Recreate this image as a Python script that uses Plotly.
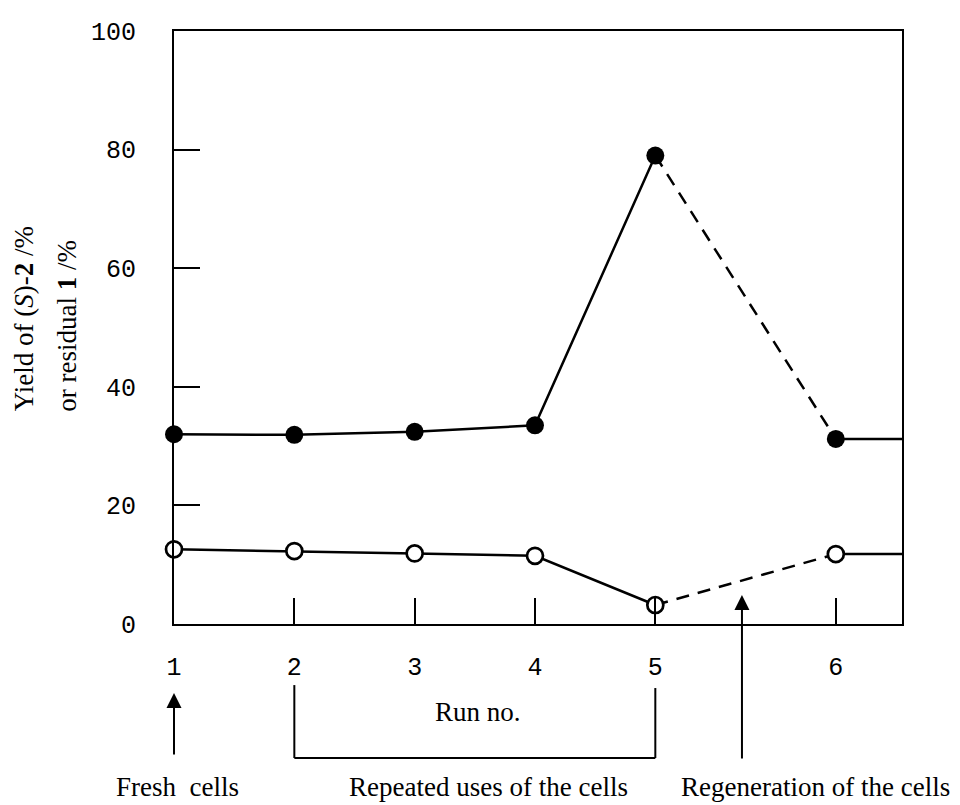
import plotly.graph_objects as go

# ---- data ----
run_labels = ["1", "2", "3", "4", "5", "6"]
run_pos = [1, 2, 3, 4, 5, 6.5]          # run 6 drawn after the regeneration gap
yield_S2 = [32.0, 31.9, 32.4, 33.5, 79.0, 31.2]      # filled circles
residual_1 = [12.6, 12.3, 11.9, 11.5, 3.2, 11.8]     # open circles
y_tick_vals = [0, 20, 40, 60, 80, 100]

X_RANGE = [1, 7.05]
Y_RANGE = [0, 100]
REGEN_X = 5.72

SERIF = "Liberation Serif, Times New Roman, serif"
MONO = "Liberation Mono, Courier New, monospace"
LW = 2.5

fig = go.Figure()


def add_series(vals, filled):
    line = dict(color="black", width=LW)
    # solid part: runs 1-5
    fig.add_trace(go.Scatter(x=run_pos[:5], y=vals[:5], mode="lines",
                             line=line, showlegend=False, hoverinfo="skip"))
    # dashed part: run 5 -> run 6 (after regeneration)
    fig.add_trace(go.Scatter(x=run_pos[4:6], y=vals[4:6], mode="lines",
                             line=dict(color="black", width=LW, dash="13px,9px"),
                             showlegend=False, hoverinfo="skip"))
    # continuation to the right frame
    fig.add_trace(go.Scatter(x=[run_pos[5], X_RANGE[1]], y=[vals[5], vals[5]],
                             mode="lines", line=line, showlegend=False,
                             hoverinfo="skip"))
    marker = (dict(symbol="circle", size=18, color="black",
                   line=dict(color="black", width=0)) if filled else
              dict(symbol="circle", size=16, color="white",
                   line=dict(color="black", width=2.7)))
    fig.add_trace(go.Scatter(x=run_pos, y=vals, mode="markers", marker=marker,
                             cliponaxis=False, showlegend=False))


add_series(yield_S2, True)
add_series(residual_1, False)

axis_common = dict(showline=True, mirror=True, linecolor="black", linewidth=2,
                   ticks="inside", ticklen=26, tickwidth=2, tickcolor="black",
                   showgrid=False, zeroline=False,
                   tickfont=dict(family=MONO, size=25, color="black"))

fig.update_xaxes(range=X_RANGE, tickmode="array", tickvals=run_pos,
                 ticktext=run_labels, ticklabelstandoff=19, **axis_common)
fig.update_yaxes(range=Y_RANGE, tickmode="array", tickvals=y_tick_vals,
                 ticktext=[str(v) for v in y_tick_vals], ticklabelstandoff=31,
                 **axis_common)

txt_font = dict(family=SERIF, size=27, color="black")
annotations = [
    # y-axis title (two rotated lines)
    dict(text="Yield of (<i>S</i>)-<b>2</b> /%", xref="paper", yref="paper",
         x=-0.206, y=0.514, textangle=-90, showarrow=False, font=txt_font,
         xanchor="center", yanchor="middle"),
    dict(text="or residual <b>1</b> /%", xref="paper", yref="paper",
         x=-0.147, y=0.503, textangle=-90, showarrow=False, font=txt_font,
         xanchor="center", yanchor="middle"),
    # x-axis title
    dict(text="Run no.", xref="x", yref="paper", x=3.53, y=-0.149,
         showarrow=False, font=txt_font, xanchor="center", yanchor="middle"),
    # bottom labels
    dict(text="Fresh&nbsp;&nbsp;cells", xref="x", yref="paper", x=1.03, y=-0.275,
         showarrow=False, font=txt_font, xanchor="center", yanchor="middle"),
    dict(text="Repeated uses of the cells", xref="x", yref="paper", x=3.61,
         y=-0.275, showarrow=False, font=txt_font, xanchor="center",
         yanchor="middle"),
    dict(text="Regeneration of the cells", xref="x", yref="paper", x=6.33,
         y=-0.275, showarrow=False, font=txt_font, xanchor="center",
         yanchor="middle"),
    # arrows
    dict(text="", xref="x", yref="paper", x=run_pos[0], y=-0.1164,
         ax=0, ay=63, showarrow=True, arrowhead=2, arrowsize=1.5,
         arrowwidth=2, arrowcolor="black", standoff=0),
    dict(text="", xref="x", yref="paper", x=REGEN_X, y=0.049,
         ax=0, ay=165, showarrow=True, arrowhead=2, arrowsize=1.5,
         arrowwidth=2, arrowcolor="black", standoff=0),
]

bracket_line = dict(color="black", width=2)
shapes = [
    dict(type="line", xref="x", yref="paper", x0=run_pos[1], x1=run_pos[1],
         y0=-0.103, y1=-0.226, line=bracket_line),
    dict(type="line", xref="x", yref="paper", x0=run_pos[4], x1=run_pos[4],
         y0=-0.108, y1=-0.226, line=bracket_line),
    dict(type="line", xref="x", yref="paper", x0=run_pos[1], x1=run_pos[4],
         y0=-0.226, y1=-0.226, line=bracket_line),
]

# the page body has an 8px default margin, so the figure is shrunk by 8px
fig.update_layout(width=952, height=797,
                  margin=dict(l=166, r=58, t=23, b=181),
                  paper_bgcolor="white", plot_bgcolor="white",
                  annotations=annotations, shapes=shapes, showlegend=False)

fig.write_html("out.html")
